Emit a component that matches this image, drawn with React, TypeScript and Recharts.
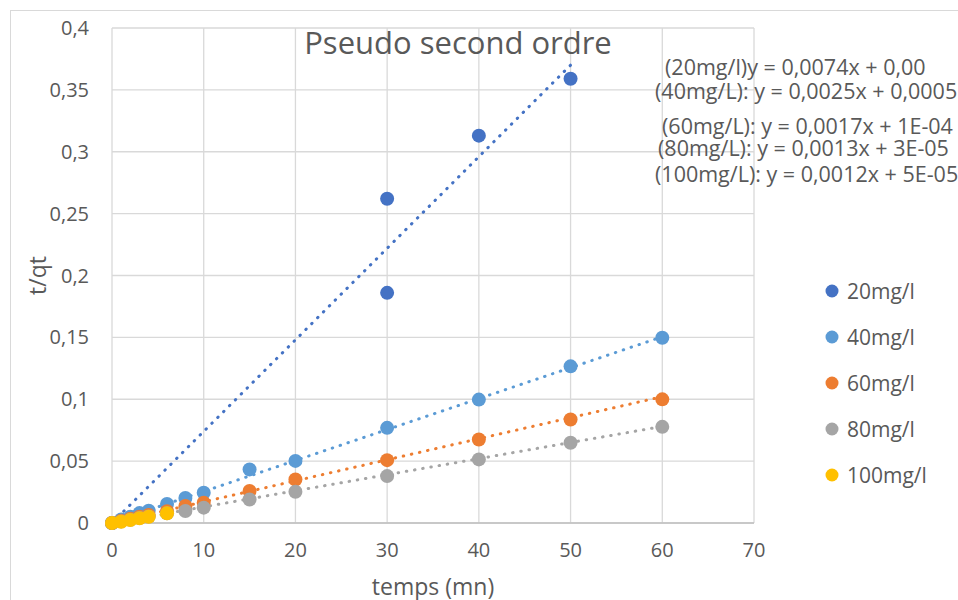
import React from 'react';
import {
  ScatterChart,
  Scatter,
  XAxis,
  YAxis,
  CartesianGrid,
  ReferenceLine,
  Legend,
} from 'recharts';

const FONT = '"Open Sans", "Noto Sans", sans-serif';
const TEXT = '#595959';
const GRID = '#D9D9D9';

// Adsorption kinetics, pseudo-second-order linearisation: t/qt vs time
const seriesNames = ['20mg/l', '40mg/l', '60mg/l', '80mg/l', '100mg/l'];
const seriesColors = ['#4472C4', '#5B9BD5', '#ED7D31', '#A5A5A5', '#FFC000'];

const time20 = [0, 30, 30, 40, 50];
const tq20 = [0, 0.186, 0.262, 0.313, 0.359];

const time40 = [0, 1, 2, 3, 4, 6, 8, 10, 15, 20, 30, 40, 50, 60];
const tq40 = [0, 0.0028, 0.005, 0.008, 0.0099, 0.0153, 0.0202, 0.0244, 0.0433, 0.0502, 0.0769, 0.0997, 0.1266, 0.1497];

const time60 = [0, 1, 2, 3, 4, 6, 8, 10, 15, 20, 30, 40, 50, 60];
const tq60 = [0, 0.0018, 0.0035, 0.005, 0.0065, 0.0095, 0.0137, 0.0164, 0.0258, 0.0352, 0.0508, 0.0675, 0.0836, 0.0999];

const time80 = [0, 1, 2, 3, 4, 6, 8, 10, 15, 20, 30, 40, 50, 60];
const tq80 = [0, 0.0013, 0.0026, 0.004, 0.0052, 0.0078, 0.0097, 0.0124, 0.019, 0.0253, 0.0379, 0.0514, 0.0648, 0.0777];

const time100 = [0, 1, 2, 3, 4, 6];
const tq100 = [0, 0.001, 0.0024, 0.0038, 0.005, 0.0078];

// Linear trend lines: y = slope * x + intercept
const slopes = [0.0074, 0.0025, 0.0017, 0.0013, 0.0012];
const intercepts = [0, 0.0005, 0.0001, 0.00003, 0.00005];
const equations = [
  '(20mg/l)y = 0,0074x + 0,00',
  '(40mg/L): y = 0,0025x + 0,0005',
  '(60mg/L): y = 0,0017x + 1E-04',
  '(80mg/L): y = 0,0013x + 3E-05',
  '(100mg/L): y = 0,0012x + 5E-05',
];
const equationPos = [
  { x: 665, y: 66 },
  { x: 655, y: 90 },
  { x: 662, y: 125 },
  { x: 658, y: 147 },
  { x: 655, y: 173 },
];

const xTicks = [0, 10, 20, 30, 40, 50, 60, 70];
const yTicks = [0, 0.05, 0.1, 0.15, 0.2, 0.25, 0.3, 0.35, 0.4];

const title = 'Pseudo second ordre';
const xTitle = 'temps (mn)';
const yTitle = 't/qt';

const seriesTimes = [time20, time40, time60, time80, time100];
const seriesValues = [tq20, tq40, tq60, tq80, tq100];

const seriesData = seriesTimes.map((times, i) =>
  times.map((t, j) => ({ x: t, y: seriesValues[i][j] }))
);

const trendSegments = seriesTimes.map((times, i) => {
  const x0 = Math.min(...times);
  const x1 = Math.max(...times);
  return [
    { x: x0, y: slopes[i] * x0 + intercepts[i] },
    { x: x1, y: slopes[i] * x1 + intercepts[i] },
  ];
});

const comma = (v: number) => String(v).replace('.', ',');

const LegendBox = () => (
  <div style={{ fontFamily: FONT }}>
    {seriesNames.map((name, i) => (
      <div
        key={name}
        style={{ display: 'flex', alignItems: 'center', height: 46 }}
      >
        <svg width={20} height={20} style={{ marginRight: 4 }}>
          <circle cx={9} cy={10} r={6.5} fill={seriesColors[i]} />
        </svg>
        <span style={{ color: TEXT, fontSize: 21, lineHeight: '21px' }}>{name}</span>
      </div>
    ))}
  </div>
);

export default function App() {
  return (
    <div style={{ position: 'absolute', left: 0, top: 0, width: 958, height: 600, overflow: 'hidden', background: '#fff' }}>
      <div
        style={{
          position: 'absolute',
          left: 10,
          top: 10,
          width: 1000,
          height: 700,
          border: `1px solid ${GRID}`,
        }}
      />
      <ScatterChart
        width={958}
        height={600}
        margin={{ top: 28, right: 204, bottom: 37, left: 12 }}
        style={{ position: 'absolute', left: 0, top: 0 }}
      >
        <CartesianGrid stroke={GRID} strokeWidth={1.3} />
        <XAxis
          type="number"
          dataKey="x"
          domain={[0, 70]}
          ticks={xTicks}
          height={40}
          tickLine={false}
          tickSize={0}
          tickMargin={20}
          axisLine={{ stroke: '#BFBFBF', strokeWidth: 1.5 }}
          tick={{ fill: TEXT, fontSize: 20, fontFamily: FONT }}
          label={{
            value: xTitle,
            position: 'bottom',
            offset: 16,
            fill: TEXT,
            fontSize: 23,
            fontFamily: FONT,
          }}
        />
        <YAxis
          type="number"
          dataKey="y"
          domain={[0, 0.4]}
          ticks={yTicks}
          width={100}
          tickLine={false}
          tickSize={0}
          tickMargin={23}
          axisLine={false}
          tickFormatter={comma}
          tick={{ fill: TEXT, fontSize: 20, fontFamily: FONT }}
          label={{
            content: (props: any) => {
              const vb = props.viewBox || { x: 12, y: 28, width: 100, height: 495 };
              const cx = vb.x + 25;
              const cy = vb.y + vb.height / 2;
              return (
                <text
                  x={cx}
                  y={cy}
                  transform={`rotate(-90, ${cx}, ${cy})`}
                  textAnchor="middle"
                  dominantBaseline="central"
                  fill={TEXT}
                  fontSize={23}
                  fontFamily={FONT}
                >
                  {yTitle}
                </text>
              );
            },
          }}
        />
        {seriesData.map((data, i) => (
          <Scatter
            key={seriesNames[i]}
            name={seriesNames[i]}
            data={data}
            fill={seriesColors[i]}
            isAnimationActive={false}
            shape={(p: any) => <circle cx={p.cx} cy={p.cy} r={7} fill={seriesColors[i]} />}
          />
        ))}
        {trendSegments.map((seg, i) => (
          <ReferenceLine
            key={`trend-${i}`}
            segment={seg}
            stroke={seriesColors[i]}
            strokeWidth={3}
            strokeDasharray="0.5 7.8"
            strokeLinecap="round"
            ifOverflow="visible"
          />
        ))}
        <Legend
          layout="vertical"
          align="center"
          verticalAlign="middle"
          content={() => <LegendBox />}
          wrapperStyle={{ left: 823, top: 268, width: 135, height: 230 }}
        />
        <g>
          <text
            x={458}
            y={42}
            textAnchor="middle"
            dominantBaseline="central"
            fill={TEXT}
            fontSize={31}
            fontFamily={FONT}
          >
            {title}
          </text>
          {equations.map((eq, i) => (
            <text
              key={eq}
              x={equationPos[i].x}
              y={equationPos[i].y}
              dominantBaseline="central"
              fill={TEXT}
              fontSize={21.5}
              fontFamily={FONT}
            >
              {eq}
            </text>
          ))}
        </g>
      </ScatterChart>
    </div>
  );
}
